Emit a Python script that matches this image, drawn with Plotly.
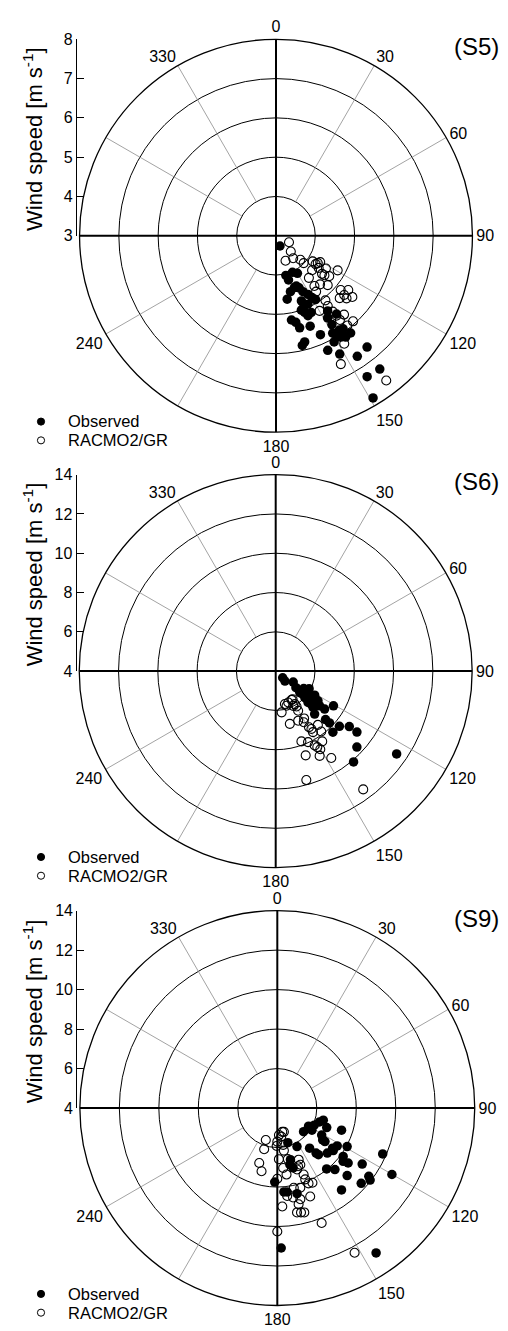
import plotly.graph_objects as go

W, H = 508, 1331
FONT = "Liberation Sans, Arial, Helvetica, sans-serif"

# ---- wind direction (deg) and wind speed (m/s) ----
s5_obs_dir = [158.8, 166, 164.2, 155.8, 150.3, 160.5, 156.1, 165.5, 170, 154.3, 151.4, 149.7, 148.2,
              158.7, 159.6, 159.5, 158.2, 155.3, 155, 161.2, 169.6, 167.1, 165.6, 159.3, 155.8, 166.5,
              164.9, 145.5, 147.9, 147.8, 142.3, 149.8, 148.5, 146.1, 144.2, 145.5, 142.5, 151.3, 155.7,
              151.7, 146, 140.7, 147.1, 142.1, 149.1, 147.4, 158]
s5_obs_spd = [3.28, 4.04, 4.17, 4.02, 4.10, 4.40, 4.45, 4.47, 4.64, 4.58, 4.70, 4.82, 4.91,
              4.78, 4.97, 5.08, 5.19, 5.15, 4.92, 5.00, 5.18, 5.26, 5.42, 5.46, 5.76, 5.87,
              5.80, 5.32, 5.47, 5.67, 5.52, 5.87, 5.95, 5.89, 5.92, 6.13, 6.12, 6.08, 6.20,
              6.42, 6.70, 6.66, 7.27, 7.30, 7.81, 6.06, 4.38]
s5_mod_dir = [116.6, 136.8, 142.6, 159.1, 134.6, 134.7, 124.9, 123.2, 120.8, 133.7, 127, 129.6, 123.3,
              127.2, 119.3, 142, 142.6, 137.8, 133.7, 144.3, 130, 126.9, 131, 134.4, 131.6, 128.7,
              142.6, 143.6, 149.9, 143.2, 142.9, 139.2, 138, 142.8, 141.5, 147.7, 153.2, 142.7,
              125.6, 129.2, 145.4]
s5_mod_spd = [3.37, 3.55, 3.72, 3.68, 3.87, 3.99, 4.14, 4.27, 4.31, 4.27, 4.36, 4.52, 4.52,
              4.70, 4.80, 4.36, 4.61, 4.67, 4.82, 4.75, 5.15, 5.30, 5.30, 5.27, 5.40, 5.49,
              5.07, 5.22, 5.21, 5.41, 5.55, 5.65, 5.93, 5.69, 5.92, 6.25, 6.66, 7.63,
              4.24, 4.59, 5.98]

s6_obs_dir = [133.6, 137, 121.9, 129.3, 121.9, 117.7, 121.7, 132.3, 128.9, 125.1, 128.3, 134.2, 137.8,
              127.8, 121, 134.2, 133.9, 130.9, 136.9, 127, 126.9, 133.1, 139.4, 124.4, 131.7, 127,
              132.8, 130.5, 130.7, 134.1]
s6_obs_spd = [4.49, 4.69, 5.05, 5.33, 5.68, 5.92, 6.33, 6.00, 6.22, 6.63, 6.85, 6.65, 6.95,
              7.15, 7.43, 7.54, 7.80, 8.29, 8.26, 8.69, 9.17, 9.66, 10.09, 11.46, 5.64, 5.96,
              6.47, 6.72, 5.73, 6.29]
s6_mod_dir = [171.8, 164.4, 158.2, 149, 149.9, 165, 155.6, 151.3, 149.3, 148.6, 141.9, 143, 159.9,
              155.5, 152.3, 146.5, 150.3, 160.4, 152.6, 147.4, 164.3, 143.5, 153.2, 149.5, 150.5,
              149, 148.3, 151.3, 151.1, 162.6]
s6_mod_spd = [6.12, 5.74, 5.72, 5.67, 5.94, 6.78, 6.77, 6.97, 7.32, 7.64, 7.48, 7.85, 7.81,
              7.97, 8.27, 8.29, 8.58, 8.55, 8.86, 9.25, 9.76, 11.49, 5.98, 6.09, 6.32,
              6.81, 7.46, 8.41, 5.67, 5.85]

s9_obs_dir = [132, 120.1, 114.9, 108.2, 104.8, 111.5, 121.3, 125.1, 109, 163.1, 152.9, 141.2, 139.3,
              138.6, 132, 126, 122.3, 118.9, 126.3, 127.8, 129, 141, 136.9, 134, 123.4, 126.7,
              127.8, 131.9, 141.9, 113.5, 120.1, 165.7, 167.5, 165.2, 182, 175.5, 173.3, 167,
              178.4, 145.7, 122.5, 127.2, 125.1]
s9_obs_spd = [5.79, 5.83, 6.06, 6.25, 6.41, 6.69, 6.63, 6.81, 7.44, 5.83, 6.19, 6.61, 7.01,
              7.15, 7.41, 7.46, 7.59, 8.04, 8.14, 8.54, 8.29, 7.97, 8.27, 8.92, 9.15, 9.78,
              9.95, 9.71, 9.27, 9.82, 10.71, 6.70, 6.94, 7.14, 7.75, 8.26, 8.28, 8.45,
              11.09, 12.88, 6.08, 7.56, 6.95]
s9_mod_dir = [176.5, 172.1, 164.5, 199.8, 197.7, 198.2, 194, 181, 180, 170.9, 171.2, 178.2, 172.1,
              174.4, 157.5, 157.9, 162.2, 158.4, 158.6, 157.5, 154.8, 163.9, 180, 173.6, 170,
              165.8, 167.5, 159.6, 177.1, 169.3, 167.2, 165.5, 158.9, 180, 151.9, 168.3, 160.4,
              168.2, 168.3]
s9_mod_spd = [5.37, 5.46, 5.25, 5.72, 6.19, 6.93, 7.30, 5.92, 5.70, 5.89, 6.18, 6.59, 7.40,
              7.05, 6.83, 7.10, 7.27, 7.62, 7.88, 8.13, 8.18, 8.20, 7.58, 8.48, 8.60,
              8.76, 8.99, 8.78, 8.99, 9.38, 9.42, 9.46, 10.24, 10.25, 12.31, 6.64, 7.13,
              5.23, 8.12]

# labelled compass directions (210, 270 and 300 are left unlabelled)
angle_vals = [0, 30, 60, 90, 120, 150, 180, 240, 330]
angle_text = ["0", "30", "60", "90", "120", "150", "180", "240", "330"]
spoke_angles = list(range(0, 360, 30))

panels = [
    dict(tag="(S5)", obs=(s5_obs_dir, s5_obs_spd), mod=(s5_mod_dir, s5_mod_spd),
         rmin=3, rmax=8, dr=1, cx=276.0, cy=230.7, R=199.0),
    dict(tag="(S6)", obs=(s6_obs_dir, s6_obs_spd), mod=(s6_mod_dir, s6_mod_spd),
         rmin=4, rmax=14, dr=2, cx=275.7, cy=671.7, R=199.0),
    dict(tag="(S9)", obs=(s9_obs_dir, s9_obs_spd), mod=(s9_mod_dir, s9_mod_spd),
         rmin=4, rmax=14, dr=2, cx=277.3, cy=1114.3, R=200.0),
]


def fx(px):
    return px / W


def fy(py):
    return 1 - py / H


fig = go.Figure()
layout = dict(width=W, height=H, margin=dict(l=0, r=0, t=0, b=0),
              paper_bgcolor="white", plot_bgcolor="white", showlegend=False,
              font=dict(family=FONT, color="black"))
annotations, shapes = [], []

for i, p in enumerate(panels, start=1):
    sp = "polar" if i == 1 else f"polar{i}"
    ring1 = p["rmin"] + p["dr"]
    rings = list(range(ring1, p["rmax"], p["dr"]))

    # thin spokes, from the first ring to the rim
    th, rr = [], []
    for a in spoke_angles:
        if a % 90:
            th += [a, a, None]
            rr += [ring1, p["rmax"], None]
    fig.add_trace(go.Scatterpolar(r=rr, theta=th, mode="lines", subplot=sp,
                                  line=dict(color="#8c8c8c", width=0.8),
                                  hoverinfo="skip", showlegend=False))
    # heavy N-S and E-W axes through the centre
    for a in (0, 90):
        fig.add_trace(go.Scatterpolar(r=[p["rmax"], p["rmin"], p["rmax"]], theta=[a, a, a + 180],
                                      mode="lines", subplot=sp, line=dict(color="black", width=2),
                                      hoverinfo="skip", showlegend=False))

    fig.add_trace(go.Scatterpolar(theta=p["obs"][0], r=p["obs"][1], mode="markers", subplot=sp,
                                  name="Observed",
                                  marker=dict(symbol="circle", size=9.5, color="black")))
    fig.add_trace(go.Scatterpolar(theta=p["mod"][0], r=p["mod"][1], mode="markers", subplot=sp,
                                  name="RACMO2/GR",
                                  marker=dict(symbol="circle-open", size=9, color="black",
                                              line=dict(width=1.1))))

    cx, cy, R = p["cx"], p["cy"], p["R"]
    layout[sp] = dict(
        domain=dict(x=[fx(cx - R), fx(cx + R)], y=[fy(cy + R), fy(cy - R)]),
        bgcolor="white",
        angularaxis=dict(rotation=90, direction="clockwise", tickmode="array",
                         tickvals=angle_vals, ticktext=angle_text, ticks="",
                         showgrid=False, showline=True, linecolor="black", linewidth=1.3,
                         tickfont=dict(size=16, family=FONT, color="black")),
        radialaxis=dict(range=[p["rmin"], p["rmax"]], tickmode="array", tickvals=rings,
                        showgrid=True, gridcolor="black", gridwidth=1.3,
                        showticklabels=False, showline=False, ticks=""),
    )

    # vertical speed scale on the left, from the centre level up to the rim
    xa, ya = f"xaxis{i}", f"yaxis{i}"
    layout[xa] = dict(domain=[fx(cx - R), fx(cx - R + 20)], range=[0, 1], visible=False,
                      anchor=f"y{i}", fixedrange=True)
    layout[ya] = dict(domain=[fy(cy), fy(cy - R)], range=[p["rmin"], p["rmax"]], anchor=f"x{i}",
                      tickmode="array", tickvals=list(range(p["rmin"], p["rmax"] + 1, p["dr"])),
                      ticks="inside", ticklen=7, tickwidth=1.2, tickcolor="black",
                      showline=True, linecolor="black", linewidth=1.3,
                      showgrid=False, zeroline=False,
                      tickfont=dict(size=16, family=FONT, color="black"))
    fig.add_trace(go.Scatter(x=[None], y=[None], xaxis=f"x{i}", yaxis=f"y{i}",
                             showlegend=False, hoverinfo="skip"))

    annotations.append(dict(text="Wind speed [m s<sup>-1</sup>]", textangle=-90,
                            x=fx(33), y=fy(cy - 98), xref="paper", yref="paper",
                            xanchor="center", yanchor="middle", showarrow=False,
                            font=dict(size=22, family=FONT, color="black")))
    annotations.append(dict(text=p["tag"], x=fx(452), y=fy(cy - 192), xref="paper", yref="paper",
                            xanchor="left", yanchor="middle", showarrow=False,
                            font=dict(size=24, family=FONT, color="black")))

    # key: filled = observed, open = model (one text block; line pitch = 1.3 x base size)
    k_mid, gap = cy + 197.75, 19.0
    key_text = ('<span style="font-size:16.5px">Observed</span><br>'
                '<span style="font-size:16.5px">RACMO2/GR</span>')
    annotations.append(dict(text=key_text, x=fx(66), y=fy(k_mid - 0.2), xref="paper", yref="paper",
                            xanchor="left", yanchor="middle", align="left", showarrow=False,
                            font=dict(size=gap / 1.3, family=FONT, color="black")))
    for k, filled in enumerate([True, False]):
        ky = k_mid + gap * (k - 0.5)
        rad = 3.6
        shapes.append(dict(type="circle", xref="paper", yref="paper",
                           x0=fx(41 - rad), x1=fx(41 + rad), y0=fy(ky + rad), y1=fy(ky - rad),
                           fillcolor="black" if filled else "white",
                           line=dict(color="black", width=1)))

layout["annotations"] = annotations
layout["shapes"] = shapes
fig.update_layout(**layout)
fig.write_html("out.html")
